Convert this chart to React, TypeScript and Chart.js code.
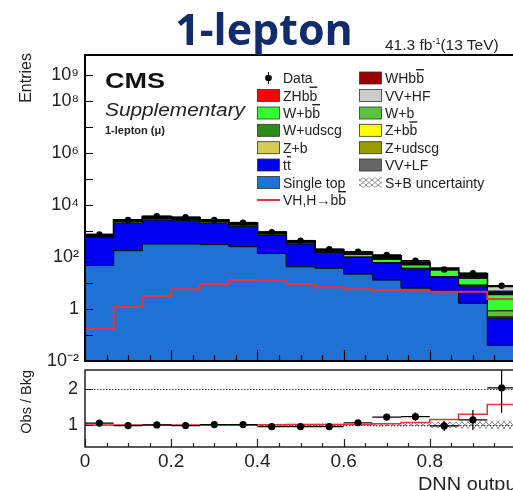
import React, { useEffect, useRef } from 'react';
import { Chart, registerables } from 'chart.js';

Chart.register(...registerables);

const FONT = '"Liberation Sans", Arial, Helvetica, sans-serif';

// ---------------- data ----------------
// DNN output bin edges (15 bins)
const binEdges = [0, 0.0667, 0.1333, 0.2, 0.2667, 0.3333, 0.4, 0.4667, 0.5333, 0.6, 0.6667, 0.7333, 0.8, 0.8667, 0.9333, 1.0];

// stacked backgrounds (entries per bin)
const singleTop = [47, 175, 316, 316, 300, 250, 138, 42, 37, 22, 13, 6.3, 4.9, 1.66, 0.04];
const ttbar = [513, 1825, 2334, 2184, 1700, 1220, 562, 274, 113, 73, 45, 26, 11.7, 5.9, 0.4];
const wUdscg = [56, 260, 356, 296, 260, 212, 80, 40, 16, 3.5, 1.4, 3.5, 0.8, 0.55, 0.06];
const wB = [21, 98, 134, 111, 98, 80, 30, 15, 6, 1.5, 0.6, 1.5, 0.3, 0.25, 0.35];
const wBB = [7, 33, 45, 37, 33, 27, 10, 5, 2, 25, 21, 12, 13.9, 6.7, 2.7];
const zUdscg = [14, 65, 89, 74, 65, 53, 20, 10, 4, 5, 5.8, 2.8, 1.1, 1.4, 0.05];
const zB = [7, 33, 45, 37, 33, 27, 10, 5, 2, 2.5, 2.9, 1.4, 0.54, 0.7, 0.05];
const zBB = [4, 20, 27, 22, 20, 16, 6, 3, 1.2, 2.5, 2.9, 1.4, 0.54, 0.7, 0.1];
const vvLF = [17, 78, 107, 89, 78, 64, 24, 12, 4.8, 5, 5.8, 2.8, 1.1, 1.4, 0.05];
const zhBB = [3, 13, 18, 15, 13, 11, 4, 2, 0.8, 2.5, 2.9, 1.4, 0.54, 0.7, 0.5];
const whBB = [3, 13, 18, 15, 13, 11, 4, 2, 0.8, 2.5, 2.9, 1.4, 0.54, 0.7, 0.6];
const vvHF = [8, 39, 53, 44, 39, 32, 12, 6, 2.4, 5, 5.8, 2.8, 1.1, 1.4, 2.6];

const dataCounts = [745, 2650, 3700, 3400, 2650, 2100, 900, 425, 200, 160, 120, 72, 33, 24, 7.8];
const vhSignal = [0.17, 1.2, 3.2, 5.7, 9.2, 13, 12, 8.9, 6.8, 5.7, 5.2, 5.0, 4.6, 4.6, 2.4];

// ratio panel
const obsOverBkg = [1.05, 0.98, 1.0, 0.98, 1.01, 1.01, 0.95, 0.95, 0.95, 1.06, 1.22, 1.23, 0.97, 1.14, 2.04];
const obsOverBkgErr = [0.04, 0.02, 0.02, 0.02, 0.02, 0.02, 0.03, 0.05, 0.07, 0.08, 0.09, 0.12, 0.14, 0.28, 0.7];
const sbOverBkg = [1.0, 1.0, 1.0, 1.0, 1.0, 1.0, 1.005, 1.01, 1.01, 1.02, 1.03, 1.07, 1.15, 1.3, 1.57];
const sbUncert = [0.02, 0.02, 0.02, 0.02, 0.02, 0.02, 0.03, 0.03, 0.04, 0.04, 0.05, 0.05, 0.09, 0.1, 0.12];

// axis ticks
const dnnTicks = [0, 0.2, 0.4, 0.6, 0.8, 1.0];
const dnnMinorTicks = [0.05, 0.1, 0.15, 0.25, 0.3, 0.35, 0.45, 0.5, 0.55, 0.65, 0.7, 0.75, 0.85, 0.9, 0.95];
const entriesTickExps = [-2, -1, 0, 1, 2, 3, 4, 5, 6, 7, 8, 9];
const entriesLabelExps = [-2, 0, 2, 4, 6, 8, 9];
const ratioTicks = [1, 2];

// ---------------- styles ----------------
const COLORS: Record<string, string> = {
  'Single top': '#1f72d4',
  tt: '#0000f0',
  'W+udscg': '#2e8b1a',
  'W+b': '#5cc040',
  'W+bb': '#33ff33',
  'Z+udscg': '#999900',
  'Z+b': '#d4cc55',
  'Z+bb': '#ffff00',
  'VV+LF': '#666666',
  ZHbb: '#ff0000',
  WHbb: '#990000',
  'VV+HF': '#cccccc',
};
const SIG_COLOR = '#e8323c';

const stackOrder: [string, number[]][] = [
  ['Single top', singleTop],
  ['tt', ttbar],
  ['W+udscg', wUdscg],
  ['W+b', wB],
  ['W+bb', wBB],
  ['Z+udscg', zUdscg],
  ['Z+b', zB],
  ['Z+bb', zBB],
  ['VV+LF', vvLF],
  ['ZHbb', zhBB],
  ['WHbb', whBB],
  ['VV+HF', vvHF],
];

const SUP: Record<string, string> = { '-': '⁻', '0': '⁰', '1': '¹', '2': '²', '3': '³', '4': '⁴', '5': '⁵', '6': '⁶', '7': '⁷', '8': '⁸', '9': '⁹' };
const powLabel = (e: number) => (e === 0 ? '1' : '10' + String(e).split('').map((c) => SUP[c]).join(''));

const stepPts = (vals: number[]) => binEdges.map((x, i) => ({ x, y: vals[Math.min(i, vals.length - 1)] }));
const centers = binEdges.slice(0, -1).map((e, i) => (e + binEdges[i + 1]) / 2);

function makeFrame(o: any) {
  return {
    id: 'frame',
    afterDatasetsDraw(chart: any) {
      const { ctx, chartArea: a, scales } = chart;
      const x = scales.x;
      const y = scales.y;
      ctx.save();
      ctx.strokeStyle = o.color;
      ctx.lineWidth = o.tickW;
      ctx.beginPath();
      for (const v of dnnTicks) {
        const px = Math.round(x.getPixelForValue(v)) + 0.5;
        ctx.moveTo(px, a.bottom);
        ctx.lineTo(px, a.bottom - o.xMajor);
      }
      for (const v of dnnMinorTicks) {
        const px = Math.round(x.getPixelForValue(v)) + 0.5;
        ctx.moveTo(px, a.bottom);
        ctx.lineTo(px, a.bottom - o.xMinor);
      }
      for (const v of o.yTicks) {
        const py = Math.round(y.getPixelForValue(v)) + 0.5;
        ctx.moveTo(a.left, py);
        ctx.lineTo(a.left + o.yLen, py);
      }
      ctx.stroke();
      ctx.lineWidth = o.lw;
      ctx.strokeRect(a.left, a.top, a.right - a.left, a.bottom - a.top);
      ctx.restore();
    },
  };
}

function makeErr(index: number, values: number[], errors: number[] | null, lw: number) {
  return {
    id: 'errbars' + index,
    beforeDatasetDraw(chart: any, args: any) {
      if (args.index !== index) return;
      const { ctx, chartArea: a, scales } = chart;
      const x = scales.x;
      const y = scales.y;
      ctx.save();
      ctx.beginPath();
      ctx.rect(a.left, a.top, a.right - a.left, a.bottom - a.top);
      ctx.clip();
      ctx.strokeStyle = '#000';
      ctx.lineWidth = lw;
      values.forEach((v, i) => {
        const py = y.getPixelForValue(v);
        const px = x.getPixelForValue(centers[i]);
        ctx.beginPath();
        ctx.moveTo(x.getPixelForValue(binEdges[i]), py);
        ctx.lineTo(x.getPixelForValue(binEdges[i + 1]), py);
        if (errors) {
          ctx.moveTo(px, y.getPixelForValue(v + errors[i]));
          ctx.lineTo(px, y.getPixelForValue(v - errors[i]));
        }
        ctx.stroke();
      });
      ctx.restore();
    },
  };
}

const refLines = {
  id: 'reflines',
  beforeDatasetsDraw(chart: any) {
    const { ctx, chartArea: a, scales } = chart;
    ctx.save();
    ctx.strokeStyle = '#444';
    ctx.lineWidth = 1;
    ctx.setLineDash([1.5, 1.5]);
    for (const v of ratioTicks) {
      const py = Math.round(scales.y.getPixelForValue(v)) + 0.5;
      ctx.beginPath();
      ctx.moveTo(a.left, py);
      ctx.lineTo(a.right, py);
      ctx.stroke();
    }
    ctx.restore();
  },
};

function Label({ s }: { s: string }) {
  // '~' marks the next character as overlined (anti-particle)
  const parts: any[] = [];
  let buf = '';
  for (let i = 0; i < s.length; i++) {
    if (s[i] === '~' && i + 1 < s.length) {
      if (buf) parts.push(<tspan key={parts.length}>{buf}</tspan>);
      buf = '';
      parts.push(
        <tspan key={parts.length} style={{ textDecoration: 'overline' }}>
          {s[i + 1]}
        </tspan>
      );
      i++;
    } else buf += s[i];
  }
  if (buf) parts.push(<tspan key={parts.length}>{buf}</tspan>);
  return <>{parts}</>;
}

const legendCol1: [string, string][] = [
  ['data', 'Data'],
  ['ZHbb', 'ZHb~b'],
  ['W+bb', 'W+b~b'],
  ['W+udscg', 'W+udscg'],
  ['Z+b', 'Z+b'],
  ['tt', 't~t'],
  ['Single top', 'Single top'],
  ['sig', 'VH,H→b~b'],
];
const legendCol2: [string, string][] = [
  ['WHbb', 'WHb~b'],
  ['VV+HF', 'VV+HF'],
  ['W+b', 'W+b'],
  ['Z+bb', 'Z+b~b'],
  ['Z+udscg', 'Z+udscg'],
  ['VV+LF', 'VV+LF'],
  ['unc', 'S+B uncertainty'],
];
const legendRowY = [78, 95.5, 113, 130.3, 147.7, 165, 182.5, 200];

function LegendItem({ kind, text, x, y }: { kind: string; text: string; x: number; y: number }) {
  let marker: any;
  if (kind === 'data') {
    marker = (
      <g>
        <line x1={x + 11.5} x2={x + 11.5} y1={y - 6} y2={y + 6} stroke="#000" strokeWidth={1} />
        <circle cx={x + 11.5} cy={y} r={3.3} fill="#000" />
      </g>
    );
  } else if (kind === 'sig') {
    marker = <line x1={x} x2={x + 23} y1={y} y2={y} stroke={SIG_COLOR} strokeWidth={2} />;
  } else if (kind === 'unc') {
    marker = <rect x={x} y={y - 5} width={23} height={10} fill="url(#hatch)" />;
  } else {
    marker = <rect x={x + 0.5} y={y - 6} width={22} height={12} fill={COLORS[kind]} stroke="#333" strokeWidth={0.8} />;
  }
  return (
    <g>
      {marker}
      <text x={x + 26} y={y + 5} fontSize={14} fill="#222">
        <Label s={text} />
      </text>
    </g>
  );
}

export default function App() {
  const topRef = useRef<HTMLCanvasElement>(null);
  const botRef = useRef<HTMLCanvasElement>(null);

  useEffect(() => {
    Chart.defaults.font.family = FONT;

    const pc = document.createElement('canvas');
    pc.width = 6;
    pc.height = 6;
    const pctx = pc.getContext('2d')!;
    pctx.strokeStyle = '#8a8a8a';
    pctx.lineWidth = 0.9;
    pctx.beginPath();
    pctx.moveTo(0, 0);
    pctx.lineTo(6, 6);
    pctx.moveTo(6, 0);
    pctx.lineTo(0, 6);
    pctx.stroke();
    const pattern = botRef.current!.getContext('2d')!.createPattern(pc, 'repeat');

    const stackSets = stackOrder.map(([label, vals], i) => ({
      type: 'line',
      label,
      data: stepPts(vals),
      stepped: 'before',
      backgroundColor: COLORS[label],
      borderColor: '#000',
      borderWidth: i === stackOrder.length - 1 ? 2 : 1,
      pointRadius: 0,
      fill: i === 0 ? 'start' : '-1',
      stack: 'bkg',
      order: 2,
    }));
    const sigSet = {
      type: 'line',
      label: 'VH,H→bb',
      data: stepPts(vhSignal),
      stepped: 'before',
      borderColor: SIG_COLOR,
      borderWidth: 2,
      pointRadius: 0,
      fill: false,
      stack: 'sig',
      order: 1,
    };
    const dataSet = {
      type: 'line',
      label: 'Data',
      data: centers.map((x, i) => ({ x, y: dataCounts[i] })),
      showLine: false,
      pointRadius: 3.2,
      pointBackgroundColor: '#000',
      pointBorderWidth: 0,
      stack: 'data',
      order: 0,
    };
    const dataIndex = stackSets.length + 1;

    const top = new Chart(topRef.current!, {
      type: 'line',
      data: { datasets: [...stackSets, sigSet, dataSet] as any },
      options: {
        responsive: false,
        animation: false,
        events: [],
        layout: { padding: { left: 0, top: 55, right: 24, bottom: 19 } },
        plugins: { legend: { display: false }, tooltip: { enabled: false } },
        scales: {
          x: { type: 'linear', min: 0, max: 1, display: false },
          y: {
            type: 'logarithmic',
            min: 0.01,
            max: 5.9e9,
            stacked: true,
            grid: { display: false, drawTicks: false },
            border: { display: false },
            afterBuildTicks: (s: any) => {
              s.ticks = entriesTickExps.map((e) => ({ value: Math.pow(10, e) }));
            },
            afterFit: (s: any) => {
              s.width = 85;
            },
            ticks: {
              padding: 6,
              color: '#222',
              autoSkip: false,
              font: { family: FONT, size: 18 },
              callback: (v: any) => {
                const e = Math.round(Math.log10(Number(v)));
                return entriesLabelExps.includes(e) ? powLabel(e) : '';
              },
            },
          },
        },
      } as any,
      plugins: [
        makeErr(dataIndex, dataCounts, null, 1.5),
        makeFrame({ color: '#000', lw: 2, tickW: 1.2, xMajor: 11, xMinor: 6, yLen: 8, yTicks: entriesTickExps.map((e) => Math.pow(10, e)) }),
      ] as any,
    });

    const bot = new Chart(botRef.current!, {
      type: 'line',
      data: {
        datasets: [
          {
            type: 'line',
            data: stepPts(sbUncert.map((u) => 1 - u)),
            stepped: 'before',
            borderWidth: 0,
            borderColor: 'rgba(0,0,0,0)',
            pointRadius: 0,
            fill: false,
            order: 3,
          },
          {
            type: 'line',
            data: stepPts(sbUncert.map((u) => 1 + u)),
            stepped: 'before',
            borderWidth: 0,
            borderColor: 'rgba(0,0,0,0)',
            backgroundColor: pattern,
            pointRadius: 0,
            fill: '-1',
            order: 2,
          },
          {
            type: 'line',
            data: stepPts(sbOverBkg),
            stepped: 'before',
            borderColor: SIG_COLOR,
            borderWidth: 1.5,
            pointRadius: 0,
            fill: false,
            order: 1,
          },
          {
            type: 'line',
            data: centers.map((x, i) => ({ x, y: obsOverBkg[i] })),
            showLine: false,
            pointRadius: 3.6,
            pointBackgroundColor: '#000',
            pointBorderWidth: 0,
            order: 0,
          },
        ] as any,
      },
      options: {
        responsive: false,
        animation: false,
        events: [],
        layout: { padding: { left: 0, top: 20, right: 24, bottom: 0 } },
        plugins: { legend: { display: false }, tooltip: { enabled: false } },
        scales: {
          x: {
            type: 'linear',
            min: 0,
            max: 1,
            grid: { display: false, drawTicks: false },
            border: { display: false },
            afterBuildTicks: (s: any) => {
              s.ticks = dnnTicks.map((v) => ({ value: v }));
            },
            afterFit: (s: any) => {
              s.height = 43;
            },
            ticks: {
              padding: 3,
              color: '#222',
              maxRotation: 0,
              autoSkip: false,
              font: { family: FONT, size: 19 },
              callback: (v: any) => (Number(v) > 0.99 ? '' : String(+Number(v).toFixed(1))),
            },
          },
          y: {
            min: 0.38,
            max: 2.54,
            grid: { display: false, drawTicks: false },
            border: { display: false },
            afterBuildTicks: (s: any) => {
              s.ticks = ratioTicks.map((v) => ({ value: v }));
            },
            afterFit: (s: any) => {
              s.width = 85;
            },
            ticks: { padding: 7, color: '#222', font: { family: FONT, size: 18 } },
          },
        },
      } as any,
      plugins: [
        refLines,
        makeErr(3, obsOverBkg, obsOverBkgErr, 1.2),
        makeFrame({ color: '#222', lw: 1.5, tickW: 1.2, xMajor: 8, xMinor: 4, yLen: 8, yTicks: ratioTicks }),
      ] as any,
    });

    return () => {
      top.destroy();
      bot.destroy();
    };
  }, []);

  return (
    <div style={{ position: 'absolute', left: 0, top: 0, width: 513, height: 490, overflow: 'hidden', background: '#fff' }}>
      <canvas ref={topRef} width={540} height={380} style={{ position: 'absolute', left: 0, top: 0 }} />
      <canvas ref={botRef} width={540} height={140} style={{ position: 'absolute', left: 0, top: 350 }} />
      <svg width={513} height={490} style={{ position: 'absolute', left: 0, top: 0 }} fontFamily={FONT}>
        <defs>
          <pattern id="hatch" width="6" height="5" patternUnits="userSpaceOnUse">
            <path d="M0,0L6,5M6,0L0,5" stroke="#888" strokeWidth={0.9} />
          </pattern>
        </defs>
        <text x={264} y={45} textAnchor="middle" fontFamily='"Open Sans", "Noto Sans", sans-serif' fontWeight={700} fontSize={43} fill="#112b6b">
          1-lepton
        </text>
        <text x={385} y={50} fontSize={15.5} fill="#222">
          41.3 fb
          <tspan fontSize={9} dy={-6}>
            -1
          </tspan>
          <tspan dy={6}>(13 TeV)</tspan>
        </text>
        <text x={105} y={88} fontSize={22} fontWeight={700} fill="#111" textLength={60} lengthAdjust="spacingAndGlyphs">
          CMS
        </text>
        <text x={105} y={115.5} fontSize={18} fontStyle="italic" fill="#222" textLength={140} lengthAdjust="spacingAndGlyphs">
          Supplementary
        </text>
        <text x={105} y={133.5} fontSize={11} fontWeight={700} fill="#222">
          1-lepton (μ)
        </text>
        <text x={31} y={53} fontSize={16} fill="#222" textAnchor="end" transform="rotate(-90 31 53)">
          Entries
        </text>
        <text x={31} y={370} fontSize={14.5} fill="#222" textAnchor="end" transform="rotate(-90 31 370)">
          Obs / Bkg
        </text>
        <text x={418} y={490} fontSize={18} fill="#222" textLength={104} lengthAdjust="spacingAndGlyphs">
          DNN output
        </text>
        {legendCol1.map(([k, t], i) => (
          <LegendItem key={'a' + i} kind={k} text={t} x={257} y={legendRowY[i]} />
        ))}
        {legendCol2.map(([k, t], i) => (
          <LegendItem key={'b' + i} kind={k} text={t} x={359} y={legendRowY[i]} />
        ))}
      </svg>
    </div>
  );
}
